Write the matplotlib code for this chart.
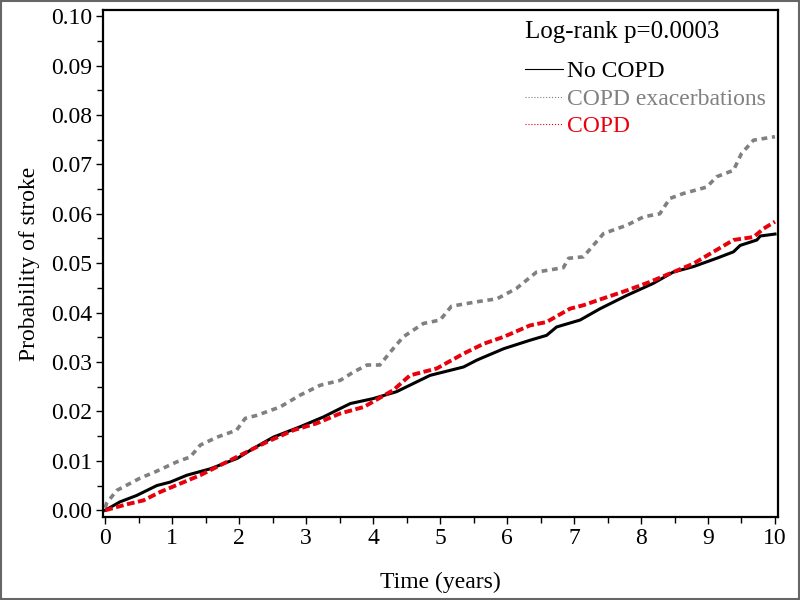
import matplotlib
matplotlib.use("Agg")
import matplotlib.pyplot as plt
from matplotlib.lines import Line2D
from matplotlib.ticker import MultipleLocator, FormatStrFormatter

plt.rcParams['font.family'] = ['Liberation Serif', 'DejaVu Serif']

# curves (time in years, cumulative probability)
no_copd_t = [0, 0.22, 0.47, 0.77, 0.97, 1.22, 1.57, 1.97, 2.21, 2.51, 2.91, 3.26, 3.51, 3.66, 4.0,
             4.35, 4.85, 5.35, 5.55, 5.95, 6.34, 6.59, 6.74, 6.94, 7.09, 7.39, 7.79, 8.18, 8.48,
             8.78, 9.13, 9.38, 9.48, 9.73, 9.78, 10.0]
no_copd_p = [0, 0.0017, 0.003, 0.005, 0.0057, 0.0071, 0.0084, 0.0105, 0.0125, 0.0148, 0.0169,
             0.0189, 0.0206, 0.0216, 0.0226, 0.024, 0.0273, 0.029, 0.0304, 0.0327, 0.0344, 0.0354,
             0.0371, 0.0379, 0.0385, 0.0408, 0.0435, 0.0459, 0.0482, 0.0493, 0.051, 0.0523, 0.0536,
             0.0547, 0.0555, 0.0559]

copd_t = [0, 0.32, 0.57, 0.82, 1.12, 1.42, 1.67, 2.01, 2.41, 2.81, 3.16, 3.51, 3.86, 4.3, 4.55,
          4.95, 5.35, 5.65, 5.95, 6.34, 6.59, 6.94, 7.14, 7.44, 7.79, 8.13, 8.48, 8.78, 9.08, 9.38,
          9.68, 9.83, 10.0]
copd_p = [0, 0.0012, 0.002, 0.0037, 0.0054, 0.0071, 0.0088, 0.0111, 0.0138, 0.0162, 0.0176,
          0.0196, 0.0209, 0.0243, 0.0273, 0.0287, 0.0317, 0.0337, 0.0351, 0.0374, 0.0381, 0.0408,
          0.0415, 0.0429, 0.0445, 0.0462, 0.0482, 0.0499, 0.0523, 0.0547, 0.0553, 0.057, 0.0584]

exac_t = [0, 0.02, 0.17, 0.52, 0.75, 1.07, 1.27, 1.42, 1.67, 1.96, 2.09, 2.26, 2.61, 2.91, 3.21,
          3.51, 3.71, 3.91, 4.10, 4.28, 4.45, 4.75, 5.0, 5.17, 5.55, 5.85, 6.14, 6.44, 6.84, 6.92,
          7.14, 7.44, 7.79, 8.04, 8.28, 8.43, 8.63, 8.98, 9.13, 9.38, 9.5, 9.68, 10.0]
exac_p = [0.0005, 0.0014, 0.004, 0.0065, 0.0078, 0.0098, 0.0108, 0.0132, 0.0148, 0.0162, 0.0186,
          0.0192, 0.0209, 0.0233, 0.0253, 0.0263, 0.028, 0.0294, 0.0294, 0.0324, 0.0351, 0.0378,
          0.0385, 0.0413, 0.0422, 0.0428, 0.0449, 0.0482, 0.0491, 0.051, 0.0513, 0.056, 0.0577,
          0.0594, 0.06, 0.0631, 0.0641, 0.0654, 0.0675, 0.0688, 0.0722, 0.0749, 0.0756]

labels = ['No COPD', 'COPD exacerbations', 'COPD']
colors = ['black', '#808080', '#e8000b']
pvalue_text = 'Log-rank p=0.0003'

fig = plt.figure(figsize=(8, 6), dpi=100)
ax = fig.add_axes([0.129, 0.138, 0.8435, 0.845])

ax.plot(exac_t, exac_p, color=colors[1], lw=2.6, dashes=(1.6, 1.3))
ax.plot(no_copd_t, no_copd_p, color=colors[0], lw=2.2)
ax.plot(copd_t, copd_p, color=colors[2], lw=2.8, dashes=(2.0, 0.9))

ax.set_xlim(-0.03, 10.045)
ax.set_ylim(-0.0014, 0.1012)
ax.xaxis.set_major_locator(MultipleLocator(1))
ax.xaxis.set_minor_locator(MultipleLocator(0.5))
ax.yaxis.set_major_locator(MultipleLocator(0.01))
ax.yaxis.set_minor_locator(MultipleLocator(0.005))
ax.yaxis.set_major_formatter(FormatStrFormatter('%.2f'))
ax.tick_params(which='major', direction='out', length=5, width=1, labelsize=17, pad=3)
ax.tick_params(which='minor', direction='out', length=4, width=1)
for s in ax.spines.values():
    s.set_linewidth(1.6)

ax.set_xlabel('Time (years)', fontsize=17, labelpad=16)
ax.set_ylabel('Probability of stroke', fontsize=17, labelpad=8)

ax.text(0.625, 0.957, pvalue_text, transform=ax.transAxes, fontsize=18,
        ha='left', va='center')

handles = [Line2D([], [], color=colors[0], lw=0.8),
           Line2D([], [], color=colors[1], lw=0.8, ls=':'),
           Line2D([], [], color=colors[2], lw=0.8, ls=':')]
leg = ax.legend(handles, labels, loc='upper left', bbox_to_anchor=(0.625, 0.90),
                frameon=False, fontsize=17, handlelength=1.6, handletextpad=0.17,
                labelspacing=0.25, borderaxespad=0, borderpad=0)
for t, c in zip(leg.get_texts(), colors):
    t.set_color(c)

# gray frame around the whole picture
fig.patches.append(plt.Rectangle((0.001, 0.002), 0.998, 0.996, transform=fig.transFigure,
                                 fill=False, edgecolor='#666666', lw=1.5))

fig.savefig('out.png', dpi=100)
